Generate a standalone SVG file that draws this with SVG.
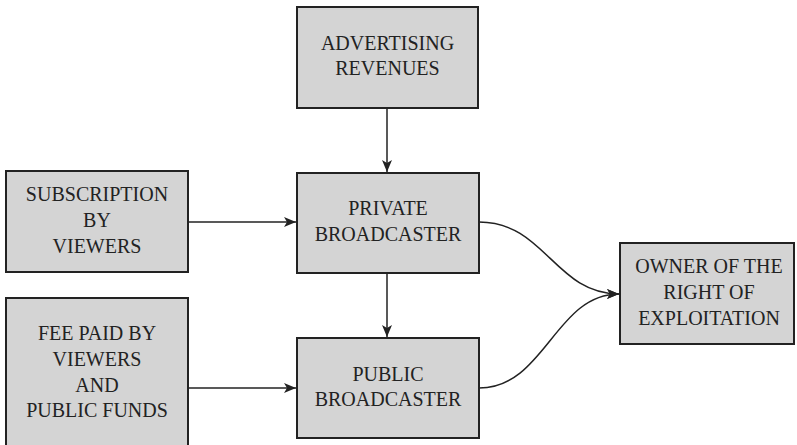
<svg xmlns="http://www.w3.org/2000/svg" width="797" height="445" viewBox="0 0 797 445">
<style>
.box{fill:#d4d4d4;stroke:#222;stroke-width:2}
.t{font-family:"Liberation Serif","Times New Roman",serif;font-size:20px;fill:#222;text-anchor:middle}
.c{fill:none;stroke:#222;stroke-width:1.5}
</style>
<defs>
<marker id="ah" viewBox="0 0 12 10" refX="12" refY="5" markerWidth="12" markerHeight="10" markerUnits="userSpaceOnUse" orient="auto">
<path d="M0,0 L12,5 L0,10 L3,5 Z" fill="#222"/>
</marker>
</defs>
<g id="connectors">
<line class="c" x1="387" y1="108" x2="387" y2="172" marker-end="url(#ah)"/>
<line class="c" x1="387" y1="273" x2="387" y2="337" marker-end="url(#ah)"/>
<line class="c" x1="188" y1="222" x2="296" y2="222" marker-end="url(#ah)"/>
<line class="c" x1="188" y1="388" x2="296" y2="388" marker-end="url(#ah)"/>
<path class="c" d="M479,222 C545,222 555,294 619,294" marker-end="url(#ah)"/>
<path class="c" d="M479,388 C545,388 555,294 619,294" marker-end="url(#ah)"/>
</g>
<g id="advertising">
<rect class="box" x="297" y="7" width="181" height="101"/>
<text class="t" x="387.5" y="50">ADVERTISING</text>
<text class="t" x="387.5" y="75">REVENUES</text>
</g>
<g id="subscription">
<rect class="box" x="6" y="171" width="182" height="101"/>
<text class="t" x="97" y="201">SUBSCRIPTION</text>
<text class="t" x="97" y="227">BY</text>
<text class="t" x="97" y="253">VIEWERS</text>
</g>
<g id="fee">
<rect class="box" x="6" y="298" width="182" height="150"/>
<text class="t" x="97" y="340">FEE PAID BY</text>
<text class="t" x="97" y="366">VIEWERS</text>
<text class="t" x="97" y="392">AND</text>
<text class="t" x="97" y="417">PUBLIC FUNDS</text>
</g>
<g id="private">
<rect class="box" x="297" y="173" width="182" height="100"/>
<text class="t" x="388" y="215">PRIVATE</text>
<text class="t" x="388" y="241">BROADCASTER</text>
</g>
<g id="public">
<rect class="box" x="297" y="338" width="182" height="100"/>
<text class="t" x="388" y="381">PUBLIC</text>
<text class="t" x="388" y="406">BROADCASTER</text>
</g>
<g id="owner">
<rect class="box" x="620" y="243" width="174" height="101"/>
<text class="t" x="709" y="273">OWNER OF THE</text>
<text class="t" x="709" y="299">RIGHT OF</text>
<text class="t" x="709" y="325">EXPLOITATION</text>
</g>
</svg>
